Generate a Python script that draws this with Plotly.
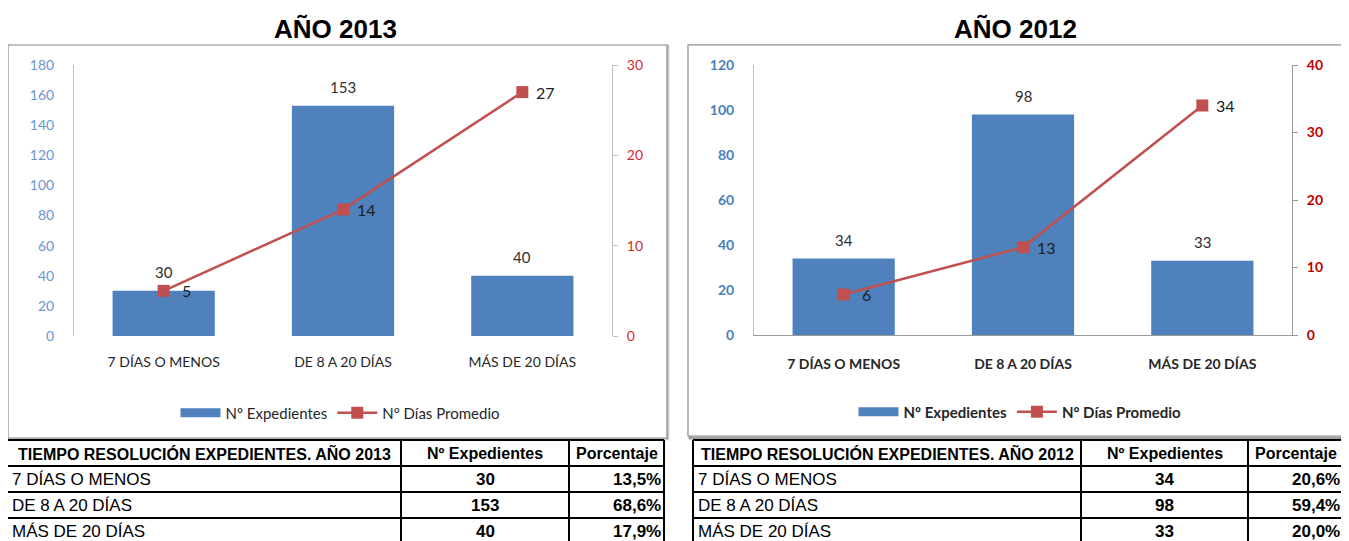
import plotly.graph_objects as go

# page is 1349x541; the browser body keeps an 8px margin
OFF = 8
W, H = 1341, 533

categories = ["7 DÍAS O MENOS", "DE 8 A 20 DÍAS", "MÁS DE 20 DÍAS"]

exp_2013 = [30, 153, 40]
dias_2013 = [5, 14, 27]
pct_2013 = [13.5, 68.6, 17.9]

exp_2012 = [34, 98, 33]
dias_2012 = [6, 13, 34]
pct_2012 = [20.6, 59.4, 20.0]

title_2013 = "AÑO 2013"
title_2012 = "AÑO 2012"
table_head_2013 = ["TIEMPO RESOLUCIÓN EXPEDIENTES. AÑO 2013", "Nº Expedientes", "Porcentaje"]
table_head_2012 = ["TIEMPO RESOLUCIÓN EXPEDIENTES. AÑO 2012", "Nº Expedientes", "Porcentaje"]
legend_bar = "Nº Expedientes"
legend_line = "Nº Días Promedio"

BLUE = "#4F81BD"
RED = "#C0504D"
CHART_FONT = "Lato, 'Open Sans', sans-serif"
TABLE_FONT = "'Liberation Sans', Arial, sans-serif"


def px(x):
    return (x - OFF) / W


def py(y):
    return 1 - (y - OFF) / H


fig = go.Figure()


def add_chart(exp, dias, xa, ya, ya2, leg):
    fig.add_trace(go.Bar(x=categories, y=exp, name=legend_bar, marker=dict(color=BLUE, line=dict(width=0)),
                         width=0.57, xaxis=xa, yaxis=ya, showlegend=False, hoverinfo="skip"))
    # legend entry for the bars (wide blue swatch)
    fig.add_trace(go.Scatter(x=[categories[0]], y=[None], name=legend_bar, mode="lines",
                             line=dict(color=BLUE, width=9), xaxis=xa, yaxis=ya, legend=leg,
                             hoverinfo="skip"))
    fig.add_trace(go.Scatter(x=categories, y=dias, name=legend_line, mode="lines+markers",
                             line=dict(color=RED, width=2.5),
                             marker=dict(symbol="square", size=12, color=RED),
                             xaxis=xa, yaxis=ya2, legend=leg))


add_chart(exp_2013, dias_2013, "x", "y", "y2", "legend")
add_chart(exp_2012, dias_2012, "x2", "y3", "y4", "legend2")

annotations = []
shapes = []

# chart frames
shapes += [
    dict(type="rect", xref="paper", yref="paper", x0=px(9), x1=px(668), y0=py(439), y1=py(46),
         line=dict(color="#C8C8C8", width=2.5), layer="below"),
    dict(type="rect", xref="paper", yref="paper", x0=px(8), x1=px(667), y0=py(438), y1=py(45),
         line=dict(color="#8A8A8A", width=1.2), fillcolor="white", layer="below"),
    dict(type="rect", xref="paper", yref="paper", x0=px(690), x1=px(1346), y0=py(438), y1=py(46),
         line=dict(color="#A0A0A0", width=3), layer="below"),
    dict(type="rect", xref="paper", yref="paper", x0=px(688), x1=px(1344), y0=py(436), y1=py(45),
         line=dict(color="#8A8A8A", width=1.2), fillcolor="white", layer="below"),
]

# titles
for t, cx in [(title_2013, 335), (title_2012, 1015)]:
    annotations.append(dict(text=f"<b>{t}</b>", x=px(cx), y=py(29), xref="paper", yref="paper",
                            xanchor="center", yanchor="middle", showarrow=False,
                            font=dict(family="Liberation Sans, Arial, sans-serif", size=26, color="black")))

# data labels
for xa, ya, ya2, exp, dias in [("x", "y", "y2", exp_2013, dias_2013), ("x2", "y3", "y4", exp_2012, dias_2012)]:
    for c, v in zip(categories, exp):
        annotations.append(dict(text=str(v), x=c, y=v, xref=xa, yref=ya, yshift=19, showarrow=False,
                                xanchor="center", yanchor="middle",
                                font=dict(family=CHART_FONT, size=15, color="#303030")))
    for c, v in zip(categories, dias):
        annotations.append(dict(text=str(v), x=c, y=v, xref=xa, yref=ya2, xshift=23, showarrow=False,
                                xanchor="center", yanchor="middle",
                                font=dict(family=CHART_FONT, size=16, color="#202020")))


def fmt_pct(p):
    return f"{p:.1f}%".replace(".", ",")


# tables drawn with lines + text
ROWS = [440, 466, 492, 518, 544]


def add_table(head, counts, pcts, cols):
    lw = 2
    for y in ROWS:
        shapes.append(dict(type="line", xref="paper", yref="paper", x0=px(cols[0]), x1=px(cols[-1]),
                           y0=py(y), y1=py(y), line=dict(color="black", width=lw)))
    for x in cols:
        shapes.append(dict(type="line", xref="paper", yref="paper", x0=px(x), x1=px(x),
                           y0=py(ROWS[0]), y1=py(ROWS[-1]), line=dict(color="black", width=lw)))
    yc = [(ROWS[i] + ROWS[i + 1]) / 2 for i in range(len(ROWS) - 1)]
    for j, h in enumerate(head):
        annotations.append(dict(text=f"<b>{h}</b>", x=px((cols[j] + cols[j + 1]) / 2), y=py(yc[0]),
                                xref="paper", yref="paper", xanchor="center", yanchor="middle",
                                showarrow=False, font=dict(family=TABLE_FONT, size=16, color="black")))
    for i, (cat, c, p) in enumerate(zip(categories, counts, pcts)):
        y = py(yc[i + 1])
        annotations.append(dict(text=cat, x=px(cols[0] + 3), y=y, xref="paper", yref="paper",
                                xanchor="left", yanchor="middle", showarrow=False,
                                font=dict(family=TABLE_FONT, size=17, color="black")))
        annotations.append(dict(text=f"<b>{c}</b>", x=px((cols[1] + cols[2]) / 2), y=y, xref="paper",
                                yref="paper", xanchor="center", yanchor="middle", showarrow=False,
                                font=dict(family=TABLE_FONT, size=17, color="black")))
        annotations.append(dict(text=f"<b>{fmt_pct(p)}</b>", x=px(cols[3] - 1), y=y, xref="paper",
                                yref="paper", xanchor="right", yanchor="middle", showarrow=False,
                                font=dict(family=TABLE_FONT, size=17, color="black")))


add_table(table_head_2013, exp_2013, pct_2013, [7, 401, 569, 664])
add_table(table_head_2012, exp_2012, pct_2012, [693, 1081, 1248, 1343])

common_axis = dict(showgrid=False, zeroline=False, automargin=False)

fig.update_layout(
    template="none",
    width=W, height=H,
    margin=dict(l=0, r=0, t=0, b=0, pad=0),
    paper_bgcolor="white", plot_bgcolor="rgba(0,0,0,0)",
    showlegend=True,
    annotations=annotations,
    shapes=shapes,
    xaxis=dict(domain=[px(74), px(612)], anchor="y", type="category", range=[-0.5, 2.5],
               showline=False, ticks="", ticklabelstandoff=16,
               tickfont=dict(family=CHART_FONT, size=14, color="#262626"), **common_axis),
    yaxis=dict(domain=[py(336), py(65)], anchor="x", range=[0, 180], dtick=20,
               showline=True, linecolor="#BFBFBF", linewidth=1,
               ticks="", ticklabelstandoff=16,
               tickfont=dict(family=CHART_FONT, size=14, color="#6A96CF"), **common_axis),
    yaxis2=dict(overlaying="y", side="right", anchor="x", range=[0, 30], dtick=10,
                showline=True, linecolor="#BFBFBF", linewidth=1,
                ticks="outside", ticklen=5, tickcolor="#BFBFBF", ticklabelstandoff=6,
                tickfont=dict(family=CHART_FONT, size=14, color="#D42A2A"), **common_axis),
    xaxis2=dict(domain=[px(754), px(1292)], anchor="y3", type="category", range=[-0.5, 2.5],
                showline=True, linecolor="#9A9A9A", linewidth=1, ticks="", ticklabelstandoff=16,
                tickfont=dict(family=CHART_FONT, size=14, color="#262626", weight="bold"), **common_axis),
    yaxis3=dict(domain=[py(335), py(65)], anchor="x2", range=[0, 120], dtick=20,
                showline=True, linecolor="#BFBFBF", linewidth=1,
                ticks="", ticklabelstandoff=16,
                tickfont=dict(family=CHART_FONT, size=14, color="#4A7EBB", weight="bold"), **common_axis),
    yaxis4=dict(overlaying="y3", side="right", anchor="x2", range=[0, 40], dtick=10,
                showline=True, linecolor="#9A9A9A", linewidth=1,
                ticks="outside", ticklen=5, tickcolor="#9A9A9A", ticklabelstandoff=6,
                tickfont=dict(family=CHART_FONT, size=14, color="#C00000", weight="bold"), **common_axis),
    legend=dict(orientation="h", x=px(340), y=py(413), xanchor="center", yanchor="middle",
                bgcolor="rgba(0,0,0,0)", itemwidth=40, traceorder="normal",
                font=dict(family=CHART_FONT, size=15, color="#262626")),
    legend2=dict(orientation="h", x=px(1020), y=py(412), xanchor="center", yanchor="middle",
                 bgcolor="rgba(0,0,0,0)", itemwidth=40, traceorder="normal",
                 font=dict(family=CHART_FONT, size=15, color="#262626", weight="bold")),
)

fig.write_html("out.html")
